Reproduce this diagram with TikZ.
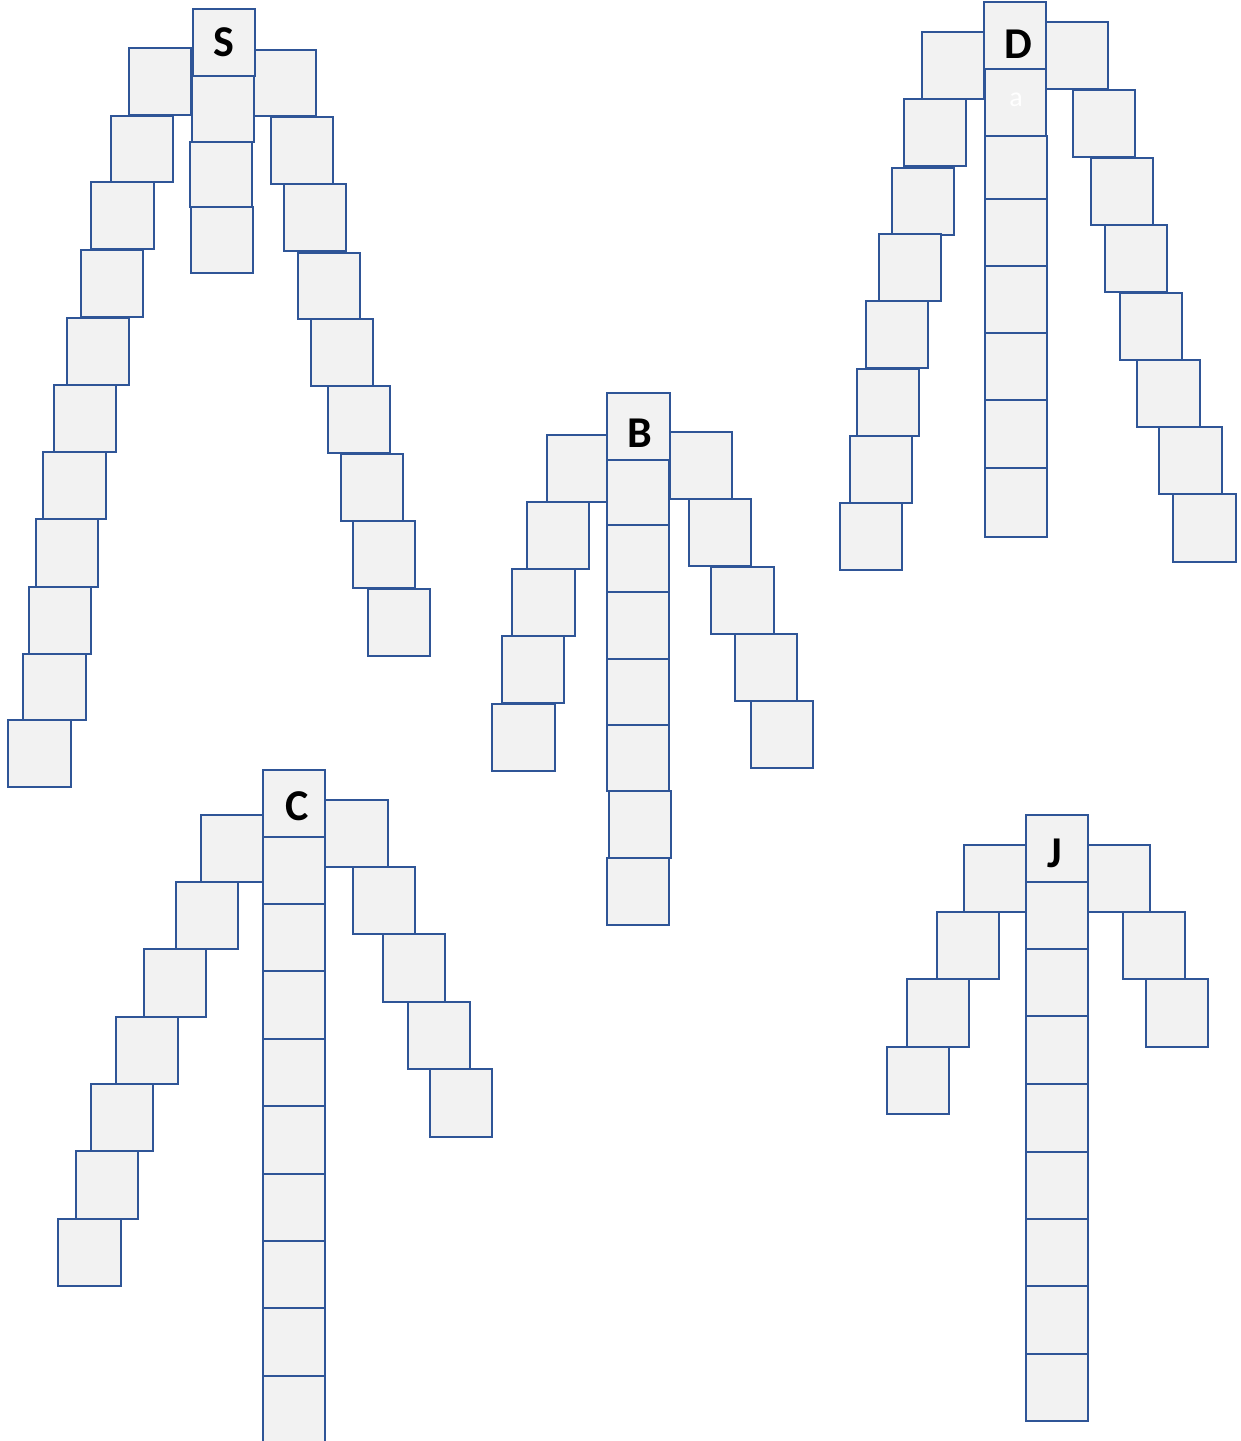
\documentclass[tikz,border=0pt]{standalone}
\usepackage{fontspec}
\setmainfont{Carlito}
\definecolor{cellfill}{HTML}{F2F2F2}
\definecolor{celldraw}{HTML}{2F5597}
\tikzset{
  cell/.style={draw=celldraw, fill=cellfill, line width=1.35pt, inner sep=0pt, outer sep=0pt, rectangle},
  lbl/.style={font=\bfseries\fontsize{22}{25}\selectfont, inner sep=0pt, text=black},
  faint/.style={font=\fontsize{14}{16}\selectfont, inner sep=0pt, text=white}
}
\newcommand\mycell[5]{%
  \pgfmathsetmacro\mycw{(#4-#2)*0.5}%
  \pgfmathsetmacro\mych{(#5-#3)*0.5}%
  \node[cell, minimum width=\mycw pt, minimum height=\mych pt] (#1) at ({(#2+#4)/2},{(#3+#5)/2}) {};}
\begin{document}
\begin{tikzpicture}[x=0.5pt,y=-0.5pt]
\useasboundingbox (0,0) rectangle (1241,1441);
% ---------- S ----------
\mycell{sL1}{129}{48}{191}{115}
\mycell{sL2}{111}{116}{173}{182}
\mycell{sL3}{91}{182}{154}{249}
\mycell{sL4}{81}{250}{143}{317}
\mycell{sL5}{67}{318}{129}{385}
\mycell{sL6}{54}{385}{116}{452}
\mycell{sL7}{43}{452}{106}{519}
\mycell{sL8}{36}{519}{98}{587}
\mycell{sL9}{29}{587}{91}{654}
\mycell{sL10}{23}{654}{86}{720}
\mycell{sL11}{8}{720}{71}{787}
\mycell{sR1}{254}{50}{316}{116}
\mycell{sR2}{271}{117}{333}{184}
\mycell{sR3}{284}{184}{346}{251}
\mycell{sR4}{298}{253}{360}{319}
\mycell{sR5}{311}{319}{373}{386}
\mycell{sR6}{328}{386}{390}{453}
\mycell{sR7}{341}{454}{403}{521}
\mycell{sR8}{353}{521}{415}{588}
\mycell{sR9}{368}{589}{430}{656}
\mycell{sT}{193}{9}{255}{76}
\mycell{sC1}{192}{76}{254}{142}
\mycell{sC2}{190}{142}{252}{207}
\mycell{sC3}{191}{207}{253}{273}
\node[lbl] (sLab) at (224,42) {S};
% ---------- B ----------
\mycell{bL1}{547}{435}{609}{502}
\mycell{bL2}{527}{502}{589}{569}
\mycell{bL3}{512}{569}{575}{636}
\mycell{bL4}{502}{636}{564}{703}
\mycell{bL5}{492}{704}{555}{771}
\mycell{bR1}{670}{432}{732}{499}
\mycell{bR2}{689}{499}{751}{566}
\mycell{bR3}{711}{567}{774}{634}
\mycell{bR4}{735}{634}{797}{701}
\mycell{bR5}{751}{701}{813}{768}
\mycell{bT}{607}{393}{670}{460}
\mycell{bC1}{607}{460}{669}{525}
\mycell{bC2}{607}{525}{669}{592}
\mycell{bC3}{607}{592}{669}{659}
\mycell{bC4}{607}{659}{669}{725}
\mycell{bC5}{607}{725}{669}{791}
\mycell{bC6}{609}{791}{671}{858}
\mycell{bC7}{607}{858}{669}{925}
\node[lbl] (bLab) at (640,433) {B};
% ---------- D ----------
\mycell{dL1}{922}{32}{984}{99}
\mycell{dL2}{904}{99}{966}{166}
\mycell{dL3}{892}{168}{954}{235}
\mycell{dL4}{879}{234}{941}{301}
\mycell{dL5}{866}{301}{928}{368}
\mycell{dL6}{857}{369}{919}{436}
\mycell{dL7}{850}{436}{912}{503}
\mycell{dL8}{840}{503}{902}{570}
\mycell{dR1}{1046}{22}{1108}{89}
\mycell{dR2}{1073}{90}{1135}{157}
\mycell{dR3}{1091}{158}{1153}{225}
\mycell{dR4}{1105}{225}{1167}{292}
\mycell{dR5}{1120}{293}{1182}{360}
\mycell{dR6}{1137}{360}{1200}{427}
\mycell{dR7}{1159}{427}{1222}{494}
\mycell{dR8}{1173}{494}{1236}{562}
\mycell{dT}{984}{2}{1046}{69}
\mycell{dC1}{985}{69}{1046}{136}
\mycell{dC2}{985}{136}{1047}{199}
\mycell{dC3}{985}{199}{1047}{266}
\mycell{dC4}{985}{266}{1047}{333}
\mycell{dC5}{985}{333}{1047}{400}
\mycell{dC6}{985}{400}{1047}{468}
\mycell{dC7}{985}{468}{1047}{537}
\node[lbl] (dLab) at (1018,44) {D};
\node[faint] (dA) at (1016,100) {a};
% ---------- C ----------
\mycell{cL1}{201}{815}{263}{882}
\mycell{cL2}{176}{882}{238}{949}
\mycell{cL3}{144}{949}{206}{1017}
\mycell{cL4}{116}{1017}{178}{1084}
\mycell{cL5}{91}{1084}{153}{1151}
\mycell{cL6}{76}{1151}{138}{1219}
\mycell{cL7}{58}{1219}{121}{1286}
\mycell{cR1}{325}{800}{388}{867}
\mycell{cR2}{353}{867}{415}{934}
\mycell{cR3}{383}{934}{445}{1002}
\mycell{cR4}{408}{1002}{470}{1069}
\mycell{cR5}{430}{1069}{492}{1137}
\mycell{cT}{263}{770}{325}{837}
\mycell{cC1}{263}{837}{325}{904}
\mycell{cC2}{263}{904}{325}{971}
\mycell{cC3}{263}{971}{325}{1039}
\mycell{cC4}{263}{1039}{325}{1106}
\mycell{cC5}{263}{1106}{325}{1174}
\mycell{cC6}{263}{1174}{325}{1241}
\mycell{cC7}{263}{1241}{325}{1308}
\mycell{cC8}{263}{1308}{325}{1376}
\mycell{cC9}{263}{1376}{325}{1444}
\node[lbl] (cLab) at (297,806) {C};
% ---------- J ----------
\mycell{jL1}{964}{845}{1026}{912}
\mycell{jL2}{937}{912}{999}{979}
\mycell{jL3}{907}{979}{969}{1047}
\mycell{jL4}{887}{1047}{949}{1114}
\mycell{jR1}{1088}{845}{1150}{912}
\mycell{jR2}{1123}{912}{1185}{979}
\mycell{jR3}{1146}{979}{1208}{1047}
\mycell{jT}{1026}{815}{1088}{882}
\mycell{jC1}{1026}{882}{1088}{949}
\mycell{jC2}{1026}{949}{1088}{1016}
\mycell{jC3}{1026}{1016}{1088}{1084}
\mycell{jC4}{1026}{1084}{1088}{1152}
\mycell{jC5}{1026}{1152}{1088}{1219}
\mycell{jC6}{1026}{1219}{1088}{1286}
\mycell{jC7}{1026}{1286}{1088}{1354}
\mycell{jC8}{1026}{1354}{1088}{1421}
\node[lbl] (jLab) at (1055,853) {J};
\end{tikzpicture}
\end{document}
